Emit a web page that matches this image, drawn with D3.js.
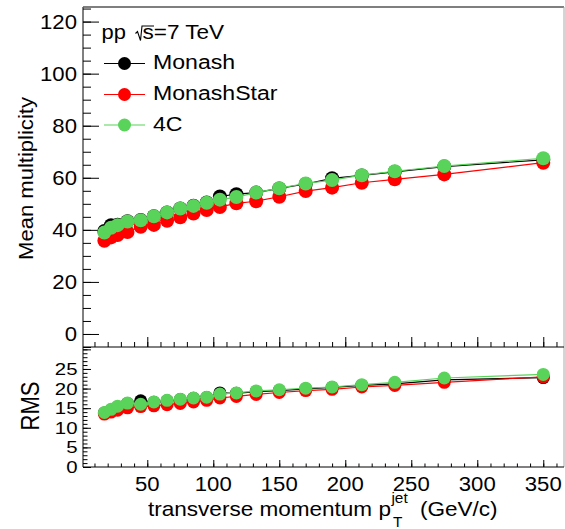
<!DOCTYPE html>
<html>
<head>
<meta charset="utf-8">
<script src="https://cdn.jsdelivr.net/npm/d3@7"></script>
<style>
  html, body { margin: 0; padding: 0; background: #fff; }
  svg { display: block; }
</style>
</head>
<body>
<svg id="chart" width="565" height="529"></svg>
<script>
// Jet transverse momentum bin centres (GeV/c)
const ptBins = [17.5, 22.5, 27.5, 35, 45, 55, 65, 75, 85, 95, 105, 117.5, 132.5, 150, 170, 190, 212.5, 237.5, 275, 350];

// Mean charged multiplicity per tune
const meanMonash     = [39.6, 41.8, 42.0, 43.3, 43.8, 45.2, 46.7, 48.2, 49.3, 50.5, 52.8, 53.7, 54.3, 55.9, 57.6, 59.8, 60.9, 62.3, 64.3, 66.9];
const meanMonashStar = [35.8, 37.1, 38.0, 39.2, 41.2, 41.9, 43.5, 44.8, 46.3, 47.6, 48.8, 50.2, 51.0, 52.7, 54.9, 56.2, 58.1, 59.4, 61.3, 65.8];
const mean4C         = [39.0, 40.8, 41.8, 43.2, 43.7, 45.2, 46.7, 48.2, 49.2, 50.4, 51.6, 52.6, 54.3, 56.0, 57.8, 59.1, 61.0, 62.5, 64.5, 67.5];

// RMS of the multiplicity distribution per tune
const rmsMonash      = [13.8, 14.5, 15.3, 16.2, 16.9, 16.5, 16.9, 17.2, 17.5, 17.7, 18.9, 18.8, 19.2, 19.5, 19.9, 20.3, 20.8, 21.2, 22.2, 22.8];
const rmsMonashStar  = [13.5, 14.0, 14.5, 15.1, 15.4, 15.6, 15.9, 16.2, 16.6, 17.0, 17.6, 18.0, 18.5, 19.0, 19.5, 19.8, 20.4, 20.8, 21.6, 23.0];
const rms4C          = [13.9, 14.7, 15.5, 16.3, 16.0, 16.6, 17.0, 17.3, 17.6, 17.8, 18.6, 18.9, 19.4, 19.7, 20.1, 20.4, 21.0, 21.6, 22.7, 23.6];

// Series names and colours
const seriesNames  = ["Monash", "MonashStar", "4C"];
const seriesColors = ["#000000", "#ff0000", "#59d359"];

// Tick values
const xMajorTicks     = [50, 100, 150, 200, 250, 300, 350];
const meanMajorTicks  = [0, 20, 40, 60, 80, 100, 120];
const rmsMajorTicks   = [0, 5, 10, 15, 20, 25, 30];
const rmsTickLabels   = [0, 5, 10, 15, 20, 25];

const FONT = "'Liberation Sans', Arial, Helvetica, sans-serif";
const svg = d3.select("#chart");
svg.append("rect").attr("width", 565).attr("height", 529).attr("fill", "#fff");

// Frame geometry
const frameLeft = 83, frameRight = 564, frameTop = 7, frameMid = 347, frameBottom = 467;

const x = d3.scaleLinear().domain([1.3, 365.7]).range([frameLeft, frameRight]);
const yMean = d3.scaleLinear().domain([-5, 125.6]).range([frameMid, frameTop]);
const yRms = d3.scaleLinear().domain([0, 30.6]).range([frameBottom, frameMid]);

// Text helper with horizontal/vertical stretch
function label(g, px, py, str, o = {}) {
  const size = o.size || 20.5, sx = o.sx || 1, sy = o.sy || 1, rot = o.rot || 0;
  return g.append("text")
    .attr("transform", `translate(${px},${py}) rotate(${rot}) scale(${sx},${sy})`)
    .attr("text-anchor", o.anchor || "start")
    .attr("font-family", FONT)
    .attr("font-size", size)
    .attr("fill", "#000")
    .text(str);
}

function cleanAxis(g) {
  g.select(".domain").remove();
  g.selectAll(".tick line").attr("stroke", "#000").attr("stroke-width", 1);
}

const minor = (a, b, s) => d3.range(a, b + 1e-9, s);

// ---- top panel axes ----
const gTop = svg.append("g");
gTop.append("g").attr("transform", `translate(${frameLeft},0)`)
  .call(d3.axisLeft(yMean).tickValues(minor(-5, 125, 5)).tickSize(-8).tickFormat("")).call(cleanAxis);
gTop.append("g").attr("transform", `translate(${frameLeft},0)`)
  .call(d3.axisLeft(yMean).tickValues(meanMajorTicks).tickSize(-16).tickFormat("")).call(cleanAxis);
gTop.append("g").attr("transform", `translate(0,${frameMid})`)
  .call(d3.axisBottom(x).tickValues(minor(10, 360, 10)).tickSize(-5).tickFormat("")).call(cleanAxis);
gTop.append("g").attr("transform", `translate(0,${frameMid})`)
  .call(d3.axisBottom(x).tickValues(xMajorTicks).tickSize(-10).tickFormat("")).call(cleanAxis);
meanMajorTicks.forEach(v => label(gTop, 77, yMean(v) + 7.3, String(v), { anchor: "end", size: 20.5, sx: 1.08 }));

// ---- bottom panel axes ----
const gBot = svg.append("g");
gBot.append("g").attr("transform", `translate(${frameLeft},0)`)
  .call(d3.axisLeft(yRms).tickValues(minor(0, 30, 1)).tickSize(-4.5).tickFormat("")).call(cleanAxis);
gBot.append("g").attr("transform", `translate(${frameLeft},0)`)
  .call(d3.axisLeft(yRms).tickValues(rmsMajorTicks).tickSize(-8).tickFormat("")).call(cleanAxis);
gBot.append("g").attr("transform", `translate(0,${frameBottom})`)
  .call(d3.axisBottom(x).tickValues(minor(10, 360, 10)).tickSize(-3.5).tickFormat("")).call(cleanAxis);
gBot.append("g").attr("transform", `translate(0,${frameBottom})`)
  .call(d3.axisBottom(x).tickValues(xMajorTicks).tickSize(-7).tickFormat("")).call(cleanAxis);
rmsTickLabels.forEach(v => label(gBot, 77.5, yRms(v) + 6, String(v), { anchor: "end", size: 17, sx: 1.2 }));
xMajorTicks.forEach(v => label(gBot, x(v), 491, String(v), { anchor: "middle", size: 20.5, sx: 1.08 }));

// ---- frames ----
const frame = svg.append("g");
frame.append("line").attr("x1", frameLeft).attr("x2", frameLeft).attr("y1", frameTop).attr("y2", frameBottom).attr("stroke", "#000");
frame.append("line").attr("x1", frameLeft).attr("x2", frameRight).attr("y1", frameTop).attr("y2", frameTop).attr("stroke", "#555").attr("stroke-width", 1.5);
frame.append("line").attr("x1", frameRight).attr("x2", frameRight).attr("y1", frameTop).attr("y2", frameBottom).attr("stroke", "#aaa");
frame.append("line").attr("x1", frameLeft).attr("x2", frameRight).attr("y1", frameMid).attr("y2", frameMid).attr("stroke", "#000");
frame.append("line").attr("x1", frameLeft).attr("x2", frameRight).attr("y1", frameBottom).attr("y2", frameBottom).attr("stroke", "#000");

// ---- data ----
const meanSeries = [meanMonash, meanMonashStar, mean4C];
const rmsSeries = [rmsMonash, rmsMonashStar, rms4C];

function drawSeries(g, values, yScale, color, r) {
  const pts = ptBins.map((p, i) => [p, values[i]]);
  const line = d3.line().x(d => x(d[0])).y(d => yScale(d[1]));
  g.append("path").attr("d", line(pts)).attr("fill", "none").attr("stroke", color).attr("stroke-width", 1.2);
  g.selectAll(null).data(pts).enter().append("circle")
    .attr("cx", d => x(d[0])).attr("cy", d => yScale(d[1])).attr("r", r).attr("fill", color);
}

const gData = svg.append("g");
seriesNames.forEach((n, i) => drawSeries(gData, meanSeries[i], yMean, seriesColors[i], 7));
seriesNames.forEach((n, i) => drawSeries(gData, rmsSeries[i], yRms, seriesColors[i], 6.5));

// ---- legend ----
const gLeg = svg.append("g");
label(gLeg, 101.5, 38.5, "pp", { size: 20.5, sx: 1.07 });
gLeg.append("path").attr("d", "M135.5,33.5 L137.5,31.5 L140.5,40.5 L142,26 L154,26")
  .attr("fill", "none").attr("stroke", "#000").attr("stroke-width", 1.1);
label(gLeg, 142.5, 38.5, "s=7 TeV", { size: 20.5, sx: 1.1 });
const legY = [63.5, 94.5, 125];
seriesNames.forEach((n, i) => {
  gLeg.append("line").attr("x1", 104).attr("x2", 145).attr("y1", legY[i]).attr("y2", legY[i])
    .attr("stroke", seriesColors[i]).attr("stroke-width", 1.2);
  gLeg.append("circle").attr("cx", 124.5).attr("cy", legY[i]).attr("r", 6.5).attr("fill", seriesColors[i]);
  label(gLeg, 153, legY[i] + 5.5, n, { size: 21, sx: 1.1 });
});

// ---- axis titles ----
label(svg, 33, 178.5, "Mean multiplicity", { anchor: "middle", size: 21, sx: 1.05, rot: -90 });
label(svg, 38.5, 406, "RMS", { anchor: "middle", size: 25, sx: 0.88, rot: -90 });

const title = label(svg, 148, 516, "transverse momentum p", { size: 20.5, sx: 1.1 });
const tw = title.node().getComputedTextLength() * 1.1;
label(svg, 148 + tw + 0.5, 503, "jet", { size: 14, sx: 1.1 });
label(svg, 148 + tw + 2, 527, "T", { size: 14, sx: 1.1 });
label(svg, 420, 516, "(GeV/c)", { size: 20.5, sx: 1.1 });
</script>
</body>
</html>
